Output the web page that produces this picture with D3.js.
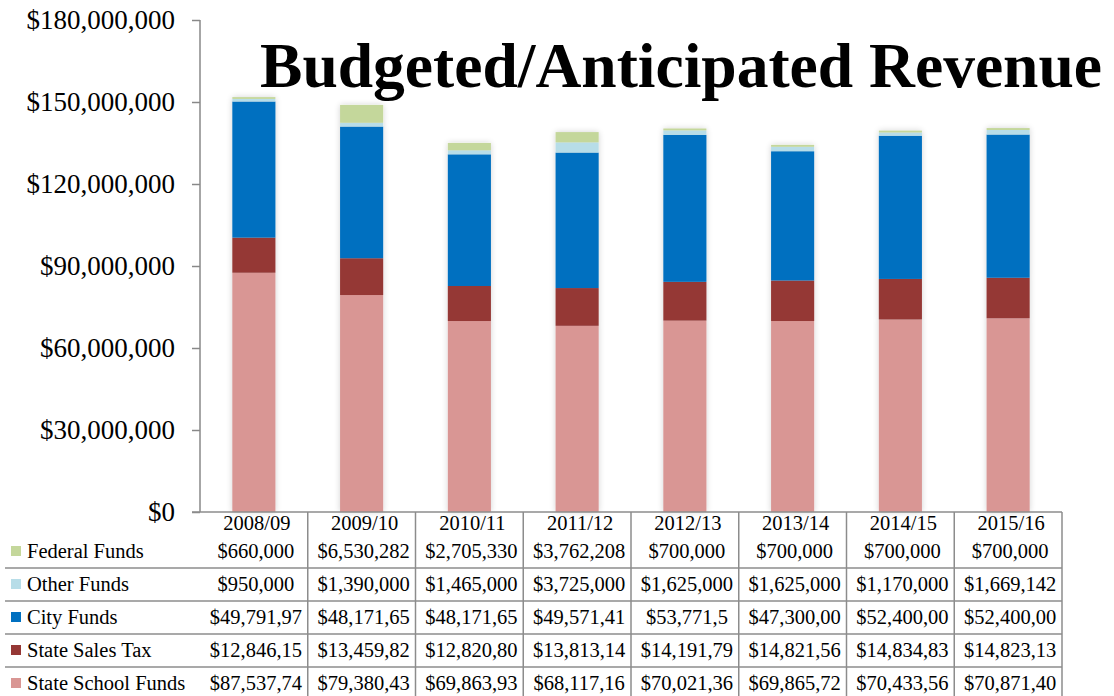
<!DOCTYPE html>
<html>
<head>
<meta charset="utf-8">
<script src="https://d3js.org/d3.v7.min.js"></script>
<style>
  body { margin: 0; background: #fff; }
  svg { display: block; font-family: "Liberation Serif", "Times New Roman", serif; }
</style>
</head>
<body>
<div id="chart"></div>
<script>
// years (categories)
const years = ["2008/09", "2009/10", "2010/11", "2011/12", "2012/13", "2013/14", "2014/15", "2015/16"];

// series values, in dollars
const stateSchool = [87537740, 79380430, 69863930, 68117160, 70021360, 69865720, 70433560, 70871400];
const stateSales  = [12846150, 13459820, 12820800, 13813140, 14191790, 14821560, 14834830, 14823130];
const cityFunds   = [49791970, 48171650, 48171650, 49571410, 53771500, 47300000, 52400000, 52400000];
const otherFunds  = [950000, 1390000, 1465000, 3725000, 1625000, 1625000, 1170000, 1669142];
const federalFunds = [660000, 6530282, 2705330, 3762208, 700000, 700000, 700000, 700000];

// table text as printed (cells are clipped in the original)
const federalText = ["$660,000", "$6,530,282", "$2,705,330", "$3,762,208", "$700,000", "$700,000", "$700,000", "$700,000"];
const otherText   = ["$950,000", "$1,390,000", "$1,465,000", "$3,725,000", "$1,625,000", "$1,625,000", "$1,170,000", "$1,669,142"];
const cityText    = ["$49,791,97", "$48,171,65", "$48,171,65", "$49,571,41", "$53,771,5", "$47,300,00", "$52,400,00", "$52,400,00"];
const salesText   = ["$12,846,15", "$13,459,82", "$12,820,80", "$13,813,14", "$14,191,79", "$14,821,56", "$14,834,83", "$14,823,13"];
const schoolText  = ["$87,537,74", "$79,380,43", "$69,863,93", "$68,117,16", "$70,021,36", "$69,865,72", "$70,433,56", "$70,871,40"];

const yTicks = [0, 30000000, 60000000, 90000000, 120000000, 150000000, 180000000];

// stacking order bottom -> top
const series = [
  { key: "school",  name: "State School Funds", color: "#d99694", values: stateSchool, text: schoolText },
  { key: "sales",   name: "State Sales Tax",    color: "#953735", values: stateSales,  text: salesText },
  { key: "city",    name: "City Funds",         color: "#0070c0", values: cityFunds,   text: cityText },
  { key: "other",   name: "Other Funds",        color: "#b7dde8", values: otherFunds,  text: otherText },
  { key: "federal", name: "Federal Funds",      color: "#c4d79b", values: federalFunds, text: federalText }
];

const w = 1114, h = 696;
const plotLeft = 200, plotRight = 1062, plotTop = 20, plotBottom = 512;
const rowH = 33;
const tableFont = "20.5px";

const rows = years.map((yr, i) => {
  const r = { year: yr };
  series.forEach(s => r[s.key] = s.values[i]);
  return r;
});

const stacked = d3.stack().keys(series.map(s => s.key))(rows);

const x = d3.scaleBand().domain(years).range([plotLeft, plotRight]).paddingInner(0.6).paddingOuter(0.3);
const col = d3.scaleBand().domain(years).range([plotLeft, plotRight]);
const y = d3.scaleLinear().domain([0, 180000000]).range([plotBottom, plotTop]);

const svg = d3.select("#chart").append("svg").attr("width", w).attr("height", h);

// soft shadow around bars
const defs = svg.append("defs");
const f = defs.append("filter").attr("id", "glow").attr("x", "-30%").attr("y", "-10%").attr("width", "160%").attr("height", "120%");
f.append("feGaussianBlur").attr("in", "SourceAlpha").attr("stdDeviation", 3).attr("result", "b");
f.append("feComponentTransfer").attr("in", "b").attr("result", "s")
  .append("feFuncA").attr("type", "linear").attr("slope", 0.18);
const fm = f.append("feMerge");
fm.append("feMergeNode").attr("in", "s");
fm.append("feMergeNode").attr("in", "SourceGraphic");

// bars
const barG = svg.append("g").attr("filter", "url(#glow)");
barG.selectAll("g.layer")
  .data(stacked)
  .join("g")
  .attr("class", "layer")
  .attr("fill", (d, i) => series[i].color)
  .selectAll("rect")
  .data(d => d)
  .join("rect")
  .attr("x", d => x(d.data.year))
  .attr("width", x.bandwidth())
  .attr("y", d => y(d[1]))
  .attr("height", d => y(d[0]) - y(d[1]));

// y axis
const yAxis = d3.axisLeft(y)
  .tickValues(yTicks)
  .tickSize(8)
  .tickPadding(17)
  .tickFormat(d => "$" + d3.format(",")(d));

const ya = svg.append("g").attr("transform", "translate(" + plotLeft + ",0)").call(yAxis);
ya.select(".domain").attr("stroke", "#888").attr("stroke-width", 1.5).attr("d", "M0," + plotTop + "V" + plotBottom);
ya.selectAll(".tick line").attr("stroke", "#888").attr("stroke-width", 1.5);
ya.selectAll(".tick text").attr("fill", "#000").style("font-size", "27px")
  .style("font-family", "'Liberation Serif', 'Times New Roman', serif");

// data table under the chart
const gridColor = "#8c8c8c";
const tbl = svg.append("g");

// x axis line
tbl.append("line").attr("x1", 192).attr("x2", plotRight).attr("y1", plotBottom).attr("y2", plotBottom)
  .attr("stroke", gridColor).attr("stroke-width", 1.5);

// column separators
const rowTop = plotBottom + 23;
const tableBottom = rowTop + rowH * 5;
tbl.selectAll("line.vsep")
  .data(years)
  .join("line")
  .attr("class", "vsep")
  .attr("x1", d => col(d) + col.bandwidth())
  .attr("x2", d => col(d) + col.bandwidth())
  .attr("y1", plotBottom)
  .attr("y2", tableBottom)
  .attr("stroke", gridColor).attr("stroke-width", 1.5);

// header
tbl.selectAll("text.year")
  .data(years)
  .join("text")
  .attr("class", "year")
  .attr("x", d => col(d) + col.bandwidth() / 2 + 3)
  .attr("y", plotBottom + 18)
  .attr("text-anchor", "middle")
  .style("font-size", tableFont)
  .text(d => d);

// rows, top = federal
const tableRows = series.slice().reverse();
tableRows.forEach((s, ri) => {
  const yTop = rowTop + ri * rowH;
  const g = tbl.append("g");
  if (ri < tableRows.length - 1) {
    g.append("line").attr("x1", 5).attr("x2", plotRight)
      .attr("y1", yTop + rowH).attr("y2", yTop + rowH)
      .attr("stroke", gridColor).attr("stroke-width", 1.5);
  }
  g.append("rect").attr("x", 11).attr("y", yTop + 11).attr("width", 10).attr("height", 10).attr("fill", s.color);
  g.append("text").attr("x", 27).attr("y", yTop + 23).style("font-size", tableFont).text(s.name);
  g.selectAll("text.cell")
    .data(s.text)
    .join("text")
    .attr("class", "cell")
    .attr("x", (d, i) => col(years[i]) + col.bandwidth() / 2 + 2)
    .attr("y", yTop + 23)
    .attr("text-anchor", "middle")
    .style("font-size", tableFont)
    .text(d => d);
});

// title
svg.append("text")
  .attr("x", 260)
  .attr("y", 87)
  .attr("textLength", 842)
  .attr("lengthAdjust", "spacingAndGlyphs")
  .style("font-size", "63px")
  .style("font-weight", "bold")
  .text("Budgeted/Anticipated Revenue");
</script>
</body>
</html>
